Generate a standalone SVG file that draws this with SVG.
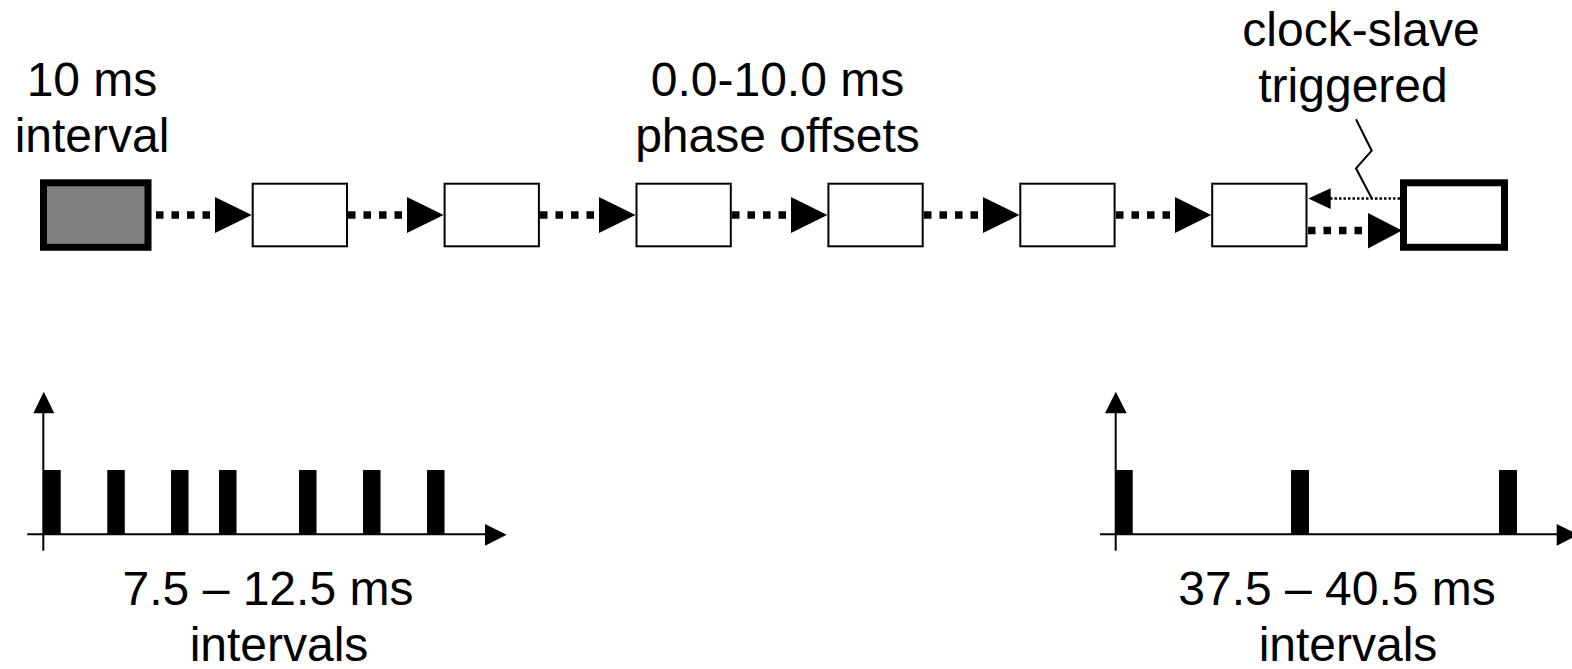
<svg xmlns="http://www.w3.org/2000/svg" width="1572" height="669" viewBox="0 0 1572 669">
<style>
  text { font-family: "Liberation Sans", Arial, sans-serif; font-size: 48px; fill: #000; text-anchor: middle; }
  .box { fill: #fff; stroke: #000; stroke-width: 2; }
  .thick { stroke: #000; stroke-width: 7; }
  .dots { fill: none; stroke: #000; stroke-width: 7.5; stroke-dasharray: 7.5 8; }
  .thin { fill: none; stroke: #000; stroke-width: 2.5; stroke-dasharray: 2.5 2; }
  .axis { fill: none; stroke: #000; stroke-width: 2; }
  .head { fill: #000; }
  .bar { fill: #000; }
</style>

<g id="labels">
  <text x="92" y="96">10 ms</text>
  <text x="92" y="152">interval</text>
  <text x="777.5" y="96">0.0-10.0 ms</text>
  <text x="777.5" y="152">phase offsets</text>
  <text x="1361" y="46">clock-slave</text>
  <text x="1353" y="102">triggered</text>
  <text x="268" y="605">7.5 – 12.5 ms</text>
  <text x="279" y="661">intervals</text>
  <text x="1337" y="605">37.5 – 40.5 ms</text>
  <text x="1348" y="661">intervals</text>
</g>

<g id="node-source"><rect class="thick" x="43.5" y="182.8" width="104.5" height="64.5" fill="#808080"/></g>
<g id="node-1"><rect class="box" x="252.7" y="183.7" width="94.3" height="62.6"/></g>
<g id="node-2"><rect class="box" x="444.6" y="183.7" width="94.3" height="62.6"/></g>
<g id="node-3"><rect class="box" x="636.5" y="183.7" width="94.3" height="62.6"/></g>
<g id="node-4"><rect class="box" x="828.4" y="183.7" width="94.3" height="62.6"/></g>
<g id="node-5"><rect class="box" x="1020.3" y="183.7" width="94.3" height="62.6"/></g>
<g id="node-6"><rect class="box" x="1212.2" y="183.7" width="94.3" height="62.6"/></g>
<g id="node-slave"><rect class="thick" x="1403.5" y="182.8" width="101" height="64.5" fill="#fff"/></g>

<g id="connectors">
  <line class="dots" x1="156" y1="215" x2="216" y2="215"/>
  <polygon class="head" points="215,197 215,233 251.7,215"/>
  <line class="dots" x1="348" y1="215" x2="408" y2="215"/>
  <polygon class="head" points="407,197 407,233 443.6,215"/>
  <line class="dots" x1="540" y1="215" x2="600" y2="215"/>
  <polygon class="head" points="599,197 599,233 635.5,215"/>
  <line class="dots" x1="732" y1="215" x2="792" y2="215"/>
  <polygon class="head" points="791,197 791,233 827.4,215"/>
  <line class="dots" x1="924" y1="215" x2="984" y2="215"/>
  <polygon class="head" points="983,197 983,233 1019.3,215"/>
  <line class="dots" x1="1116" y1="215" x2="1176" y2="215"/>
  <polygon class="head" points="1175,197 1175,233 1211.2,215"/>
  <line class="dots" x1="1308" y1="230.5" x2="1369" y2="230.5"/>
  <polygon class="head" points="1368,213 1368,248.5 1402,230.5"/>
  <line class="thin" x1="1400" y1="198.5" x2="1329" y2="198.5"/>
  <polygon class="head" points="1330.7,188.3 1330.7,209 1308.3,198.5"/>
  <polyline fill="none" stroke="#000" stroke-width="2" points="1356,119.3 1371.7,150.7 1356,168.3 1371.7,198.3"/>
</g>

<g id="chart-left">
  <line class="axis" x1="43.3" y1="412" x2="43.3" y2="550.7"/>
  <polygon class="head" points="33.3,413.3 54.3,413.3 43.8,391.7"/>
  <line class="axis" x1="27.3" y1="534.3" x2="486" y2="534.3"/>
  <polygon class="head" points="485,524 485,545.7 506.7,534.8"/>
  <rect class="bar" x="43.5" y="470" width="17.2" height="64.3"/>
  <rect class="bar" x="107.3" y="470" width="17.5" height="64.3"/>
  <rect class="bar" x="171" y="470" width="17.5" height="64.3"/>
  <rect class="bar" x="219" y="470" width="17.5" height="64.3"/>
  <rect class="bar" x="299" y="470" width="17.5" height="64.3"/>
  <rect class="bar" x="363" y="470" width="17.5" height="64.3"/>
  <rect class="bar" x="427" y="470" width="17.5" height="64.3"/>
</g>

<g id="chart-right">
  <line class="axis" x1="1115.7" y1="412" x2="1115.7" y2="550.7"/>
  <polygon class="head" points="1105,413.3 1126.7,413.3 1115.8,391.7"/>
  <line class="axis" x1="1100" y1="534.3" x2="1558" y2="534.3"/>
  <polygon class="head" points="1556.7,524 1556.7,545.7 1578.4,534.8"/>
  <rect class="bar" x="1115.7" y="470" width="17" height="64.3"/>
  <rect class="bar" x="1291" y="470" width="18" height="64.3"/>
  <rect class="bar" x="1499" y="470" width="18" height="64.3"/>
</g>
</svg>
